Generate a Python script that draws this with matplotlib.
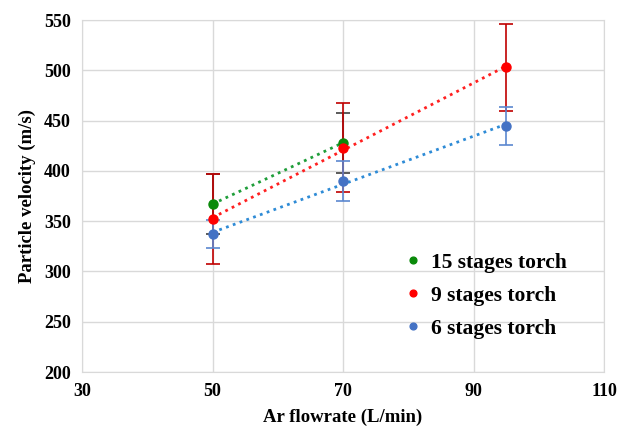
import numpy as np
import matplotlib.pyplot as plt

plt.rcParams["font.family"] = ["Liberation Serif", "DejaVu Serif"]
plt.rcParams["font.weight"] = "bold"

flow_15 = [50, 70]
vel_15 = [367, 428]
err_15 = [30, 30]

flow_9 = [50, 70, 95]
vel_9 = [352, 423, 503]
err_9 = [45, 44, 43]

flow_6 = [50, 70, 95]
vel_6 = [337, 390, 445]
err_6 = [14, 20, 19]

series = [
    ("15 stages torch", flow_15, vel_15, err_15, "#0a8a0a", "#404040", "#1f9e3a"),
    ("9 stages torch", flow_9, vel_9, err_9, "#ff0000", "#c00000", "#ff2020"),
    ("6 stages torch", flow_6, vel_6, err_6, "#4472c4", "#5b87d0", "#2e8bd6"),
]

fig = plt.figure(figsize=(6.23, 4.4), dpi=100)
ax = fig.add_axes([0.1316, 0.1545, 0.838, 0.8])

for label, x, y, err, color, ecolor, lcolor in series:
    ax.errorbar(x, y, yerr=err, fmt="none", ecolor=ecolor, elinewidth=1.2,
                capsize=5, capthick=1.2, zorder=2)
    slope, intercept = np.polyfit(x, y, 1)
    xs = np.array([min(x), max(x)])
    ax.plot(xs, slope * xs + intercept, linestyle=(0, (1, 1.6)), color=lcolor,
            linewidth=2, zorder=3)
    ax.plot(x, y, "o", color=color, markersize=6.5, label=label, zorder=4)

ax.set_xlim(30, 110)
ax.set_ylim(200, 550)
ax.set_xticks(np.arange(30, 111, 20))
ax.set_yticks(np.arange(200, 551, 50))
ax.grid(True, color="#d9d9d9", linewidth=1)
ax.set_axisbelow(True)
for spine in ax.spines.values():
    spine.set_color("#d9d9d9")
ax.tick_params(length=0, labelsize=13, pad=8)
for t in ax.get_xticklabels() + ax.get_yticklabels():
    t.set_fontweight("bold")

ax.set_xlabel("Ar flowrate (L/min)", fontsize=13.5, fontweight="bold", labelpad=6)
ax.set_ylabel("Particle velocity (m/s)", fontsize=13.5, fontweight="bold", labelpad=6)

ax.legend(loc="lower right", bbox_to_anchor=(0.965, 0.04), frameon=False,
          handlelength=0.6, handletextpad=0.5, labelspacing=0.6,
          markerscale=0.75, prop={"weight": "bold", "size": 15.5})

fig.savefig("out.png", dpi=100)
